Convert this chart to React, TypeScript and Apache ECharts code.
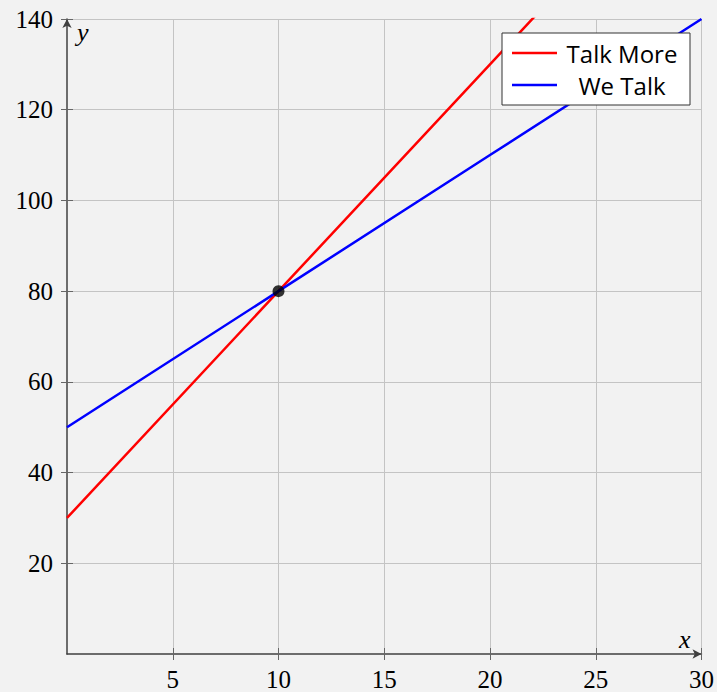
import React, { useEffect, useRef } from "react";
import * as echarts from "echarts";

const xValues = [0, 10, 20, 30];
const talkMore = [30, 80, 130, 180];
const weTalk = [50, 80, 110, 140];
const intersection = [[10, 80]];
const xTicks = [5, 10, 15, 20, 25, 30];
const yTicks = [20, 40, 60, 80, 100, 120, 140];

const serif = "'Liberation Serif', 'DejaVu Serif', serif";
const sans = "'Open Sans', 'Noto Sans', sans-serif";

export default function App() {
  const ref = useRef<HTMLDivElement>(null);
  useEffect(() => {
    if (!ref.current) return;
    const chart = echarts.init(ref.current, null, { renderer: "svg" });
    const axisColor = "#404040";
    const gridColor = "#c4c4c4";
    const tickColor = "#666";
    const option: any = {
      animation: false,
      backgroundColor: "#f2f2f2",
      grid: { left: 67, top: 19, right: 14, bottom: 36 },
      xAxis: [
        {
          type: "value",
          min: 0,
          max: 30,
          interval: 5,
          axisLine: {
            show: true,
            onZero: false,
            lineStyle: { color: axisColor, width: 1.5 },
            symbol: ["none", "arrow"],
            symbolSize: [7, 9],
          },
          axisTick: {
            show: true,
            length: 6,
            customValues: xTicks,
            lineStyle: { color: tickColor },
          },
          axisLabel: {
            customValues: xTicks,
            margin: 13,
            color: "#000",
            fontSize: 25,
            fontFamily: serif,
          },
          splitLine: { show: true, lineStyle: { color: gridColor, width: 1 } },
        },
        {
          type: "value",
          min: 0,
          max: 30,
          interval: 5,
          position: "bottom",
          axisLine: { show: false },
          axisTick: {
            show: true,
            inside: true,
            length: 6,
            customValues: xTicks,
            lineStyle: { color: tickColor },
          },
          axisLabel: { show: false },
          splitLine: { show: false },
        },
      ],
      yAxis: [
        {
          type: "value",
          min: 0,
          max: 140,
          interval: 20,
          axisLine: {
            show: true,
            onZero: false,
            lineStyle: { color: axisColor, width: 1.5 },
            symbol: ["none", "arrow"],
            symbolSize: [7, 9],
          },
          axisTick: {
            show: true,
            length: 6,
            customValues: yTicks,
            lineStyle: { color: tickColor },
          },
          axisLabel: {
            customValues: yTicks,
            margin: 14,
            color: "#000",
            fontSize: 25,
            fontFamily: serif,
          },
          splitLine: { show: true, lineStyle: { color: gridColor, width: 1 } },
        },
        {
          type: "value",
          min: 0,
          max: 140,
          interval: 20,
          position: "left",
          axisLine: { show: false },
          axisTick: {
            show: true,
            inside: true,
            length: 6,
            customValues: yTicks,
            lineStyle: { color: tickColor },
          },
          axisLabel: { show: false },
          splitLine: { show: false },
        },
      ],
      legend: {
        orient: "vertical",
        left: 502,
        top: 33,
        padding: [8, 8, 8, 10],
        itemGap: 8,
        itemWidth: 45,
        itemHeight: 2.5,
        icon: "rect",
        backgroundColor: "#ffffff",
        borderColor: "#333333",
        borderWidth: 1,
        borderRadius: 0,
        data: ["Talk More", "We Talk"],
        formatter: (name: string) => `{t|${name}}`,
        textStyle: {
          rich: {
            t: {
              width: 120,
              align: "center",
              fontSize: 24,
              lineHeight: 26,
              fontFamily: sans,
              color: "#000",
            },
          },
        },
      },
      graphic: [
        {
          type: "text",
          x: 77,
          y: 32,
          style: {
            text: "y",
            font: `italic 26px ${serif}`,
            fill: "#000",
            textAlign: "left",
            textVerticalAlign: "middle",
          },
        },
        {
          type: "text",
          x: 679,
          y: 639,
          style: {
            text: "x",
            font: `italic 26px ${serif}`,
            fill: "#000",
            textAlign: "left",
            textVerticalAlign: "middle",
          },
        },
      ],
      series: [
        {
          name: "Talk More",
          type: "line",
          data: xValues.map((x, i) => [x, talkMore[i]]),
          symbol: "none",
          clip: true,
          lineStyle: { color: "#ff0000", width: 2.5 },
          itemStyle: { color: "#ff0000" },
        },
        {
          name: "We Talk",
          type: "line",
          data: xValues.map((x, i) => [x, weTalk[i]]),
          symbol: "none",
          clip: true,
          lineStyle: { color: "#0000ff", width: 2.5 },
          itemStyle: { color: "#0000ff" },
        },
        {
          name: "Intersection",
          type: "scatter",
          data: intersection,
          symbolSize: 12,
          itemStyle: { color: "#000000" },
          z: 10,
        },
      ],
    };
    chart.setOption(option);
    return () => chart.dispose();
  }, []);
  return (
    <div
      ref={ref}
      style={{ position: "absolute", left: 0, top: 0, width: 717, height: 692 }}
    />
  );
}
